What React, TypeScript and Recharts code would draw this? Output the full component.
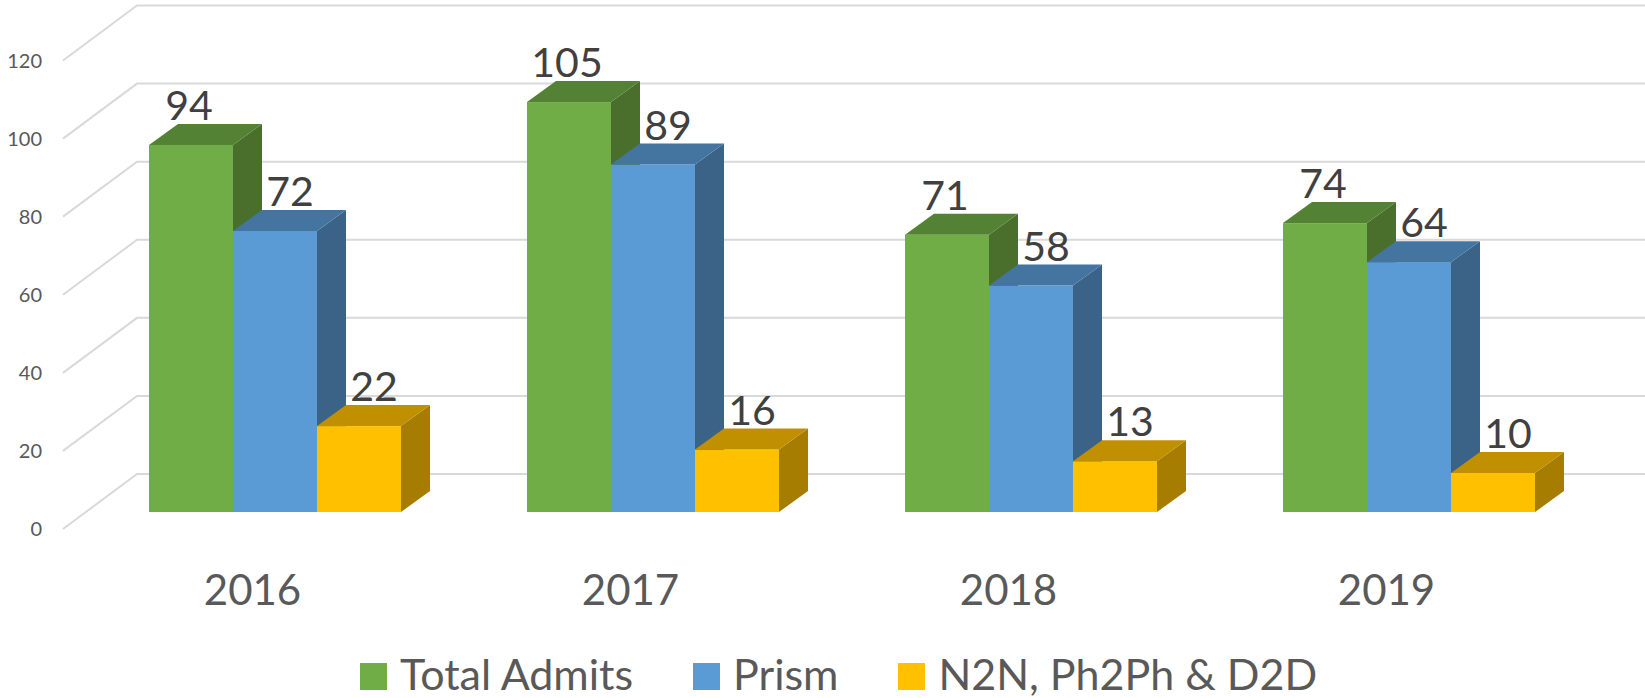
import React from 'react';
import { BarChart, Bar, XAxis, YAxis, CartesianGrid, Legend } from 'recharts';

// ---- data ----
const years = ['2016', '2017', '2018', '2019'];
const totalAdmits = [94, 105, 71, 74];
const prism = [72, 89, 58, 64];
const n2n = [22, 16, 13, 10];
const yTicks = [0, 20, 40, 60, 80, 100, 120];
const seriesNames = ['Total Admits', 'Prism', 'N2N, Ph2Ph & D2D'];

const data = years.map((y, i) => ({ year: y, total: totalAdmits[i], prism: prism[i], n2n: n2n[i] }));

// ---- styles ----
const W = 1645;
const H = 698;
const DX = 29; // bar depth (x)
const DY = 21; // bar depth (y)
const FONT = 'Lato, "Open Sans", sans-serif';

const palette: Record<string, { front: string; top: string; side: string; labelDx: number }> = {
  total: { front: '#70AD47', top: '#548235', side: '#4A6F2C', labelDx: -2 },
  prism: { front: '#5B9BD5', top: '#4475A1', side: '#3A6387', labelDx: 15 },
  n2n: { front: '#FFC000', top: '#C09000', side: '#A67D00', labelDx: 15 },
};
const keys = ['total', 'prism', 'n2n'];

function makeShape(key: string) {
  const c = palette[key];
  return (p: any) => {
    const { x, y, width: w, height: h, payload } = p;
    const v = payload[key];
    return (
      <g>
        <rect x={x} y={y} width={w} height={h} fill={c.front} />
        <polygon
          points={`${x + w},${y} ${x + w + DX},${y - DY} ${x + w + DX},${y + h - DY} ${x + w},${y + h}`}
          fill={c.side}
        />
        <polygon points={`${x},${y} ${x + DX},${y - DY} ${x + w + DX},${y - DY} ${x + w},${y}`} fill={c.top} />
        <text
          x={x + w / 2 + c.labelDx}
          y={y - DY - 4}
          textAnchor="middle"
          fontSize={41}
          fontFamily={FONT}
          fill="#404040"
        >
          {v}
        </text>
      </g>
    );
  };
}

const gridLine = (p: any) => {
  const { x1, x2, y1 } = p;
  return (
    <path
      key={`g-${y1}`}
      d={`M${x1 - 23},${y1 + 17} L${x1 + 51},${y1 - 38} L${x2 + 47},${y1 - 38}`}
      stroke="#D9D9D9"
      strokeWidth={2}
      fill="none"
    />
  );
};

const YTick = (p: any) => (
  <text x={p.x - 44} y={p.y + 24} textAnchor="end" fontSize={20} fontFamily={FONT} fill="#595959">
    {p.payload.value}
  </text>
);

const XTick = (p: any) => (
  <text x={p.x - 22.5} y={p.y + 93} textAnchor="middle" fontSize={42} fontFamily={FONT} fill="#595959">
    {p.payload.value}
  </text>
);

const LegendContent = () => (
  <div
    style={{
      display: 'flex',
      alignItems: 'baseline',
      paddingLeft: 360,
      fontFamily: FONT,
      fontSize: 43,
      color: '#595959',
      lineHeight: '48px',
      height: 48,
    }}
  >
    {keys.map((k, i) => (
      <div key={k} style={{ display: 'flex', alignItems: 'baseline', marginRight: i < 2 ? 60 : 0 }}>
        <span style={{ display: 'inline-block', width: 27, height: 27, background: palette[k].front, marginRight: 13 }} />
        <span>{seriesNames[i]}</span>
      </div>
    ))}
  </div>
);

export default function App() {
  return (
    <div style={{ position: 'absolute', left: 0, top: 0, width: W, height: H, background: '#fff' }}>
      <BarChart
        width={W}
        height={H}
        data={data}
        margin={{ top: 43.5, right: 47, bottom: 38, left: 26 }}
        barCategoryGap="16.6667%"
        barGap={0}
      >
        <CartesianGrid vertical={false} horizontal={gridLine} />
        <XAxis
          dataKey="year"
          height={100}
          axisLine={false}
          tickLine={false}
          tickSize={0}
          tickMargin={0}
          tick={<XTick />}
          interval={0}
        />
        <YAxis
          domain={[0, 120]}
          ticks={yTicks}
          width={60}
          axisLine={false}
          tickLine={false}
          tickSize={0}
          tickMargin={0}
          tick={<YTick />}
          interval={0}
        />
        <Legend
          verticalAlign="bottom"
          content={<LegendContent />}
          wrapperStyle={{ top: 650, left: 0, width: W, height: 48 }}
        />
        {keys.map((k, i) => (
          <Bar key={k} dataKey={k} name={seriesNames[i]} shape={makeShape(k)} isAnimationActive={false} />
        ))}
      </BarChart>
    </div>
  );
}
